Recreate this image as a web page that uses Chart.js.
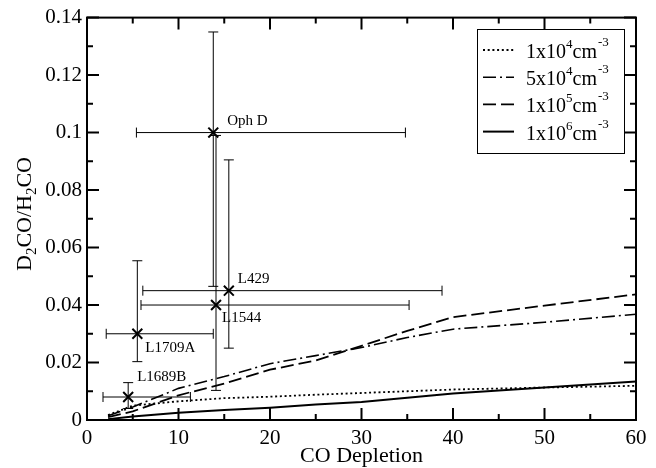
<!DOCTYPE html>
<html>
<head>
<meta charset="utf-8">
<script src="https://cdn.jsdelivr.net/npm/chart.js@4.4.1/dist/chart.umd.min.js"></script>
<style>
  html, body { margin: 0; padding: 0; background: #fff; }
</style>
</head>
<body>
<canvas id="myChart" width="656" height="468"></canvas>
<script>
// model curves: D2CO/H2CO vs CO depletion for four densities
const depletion = [2.3, 5, 10, 15, 20, 25, 30, 35, 40, 50, 60];
const dens1e4 = [0.0017, 0.005, 0.0065, 0.0076, 0.0081, 0.0088, 0.0094, 0.0100, 0.0106, 0.0113, 0.0119];
const dens5e4 = [0.0015, 0.0045, 0.0110, 0.0151, 0.0196, 0.0224, 0.0252, 0.0287, 0.0316, 0.0340, 0.0368];
const dens1e5 = [0.0010, 0.0030, 0.0086, 0.0127, 0.0175, 0.0207, 0.0258, 0.0310, 0.0358, 0.0398, 0.0437];
const dens1e6 = [0.0003, 0.0012, 0.0025, 0.0035, 0.0043, 0.0054, 0.0063, 0.0077, 0.0092, 0.0113, 0.0134];

// observed sources with error bars
const sourceNames = ['Oph D', 'L429', 'L1544', 'L1709A', 'L1689B'];
const srcDepl  = [13.8, 15.5, 14.1, 5.5, 4.5];
const srcRatio = [0.100, 0.045, 0.040, 0.030, 0.008];
const deplLow  = [5.4, 6.1, 5.9, 2.1, 1.75];
const deplHigh = [34.8, 38.8, 35.2, 13.8, 11.3];
const ratioLow  = [0.0465, 0.025, 0.0103, 0.0203, 0.004];
const ratioHigh = [0.135, 0.0905, 0.099, 0.0554, 0.013];

// legend text
const legendMant = ['1x10', '5x10', '1x10', '1x10'];
const legendExp  = ['4', '4', '5', '6'];

const SERIF = "'Liberation Serif', 'DejaVu Serif', serif";
const dashes = [[2, 2.7], [13, 4, 2, 4], [13, 5], []];
const widths = [1.8, 1.6, 1.8, 2];

const lineData = [dens1e4, dens5e4, dens1e5, dens1e6].map((arr, k) => ({
  label: legendMant[k] + legendExp[k],
  data: depletion.map((d, i) => ({ x: d, y: arr[i] })),
  showLine: true,
  borderColor: '#000',
  borderWidth: widths[k],
  borderDash: dashes[k],
  pointRadius: 0,
  fill: false
}));

// label offsets relative to each marker (px)
const labelOff = [[14, -12], [9, -12], [6, 13], [8, 14], [9, -20]];

const extras = {
  id: 'extras',
  beforeDatasetsDraw(chart) {
    const { ctx, scales: { x, y } } = chart;
    ctx.save();
    ctx.strokeStyle = '#000';
    ctx.lineWidth = 1;
    const cap = 5;
    for (let i = 0; i < sourceNames.length; i++) {
      const px = x.getPixelForValue(srcDepl[i]);
      const py = y.getPixelForValue(srcRatio[i]);
      const x0 = x.getPixelForValue(deplLow[i]);
      const x1 = x.getPixelForValue(deplHigh[i]);
      const y0 = y.getPixelForValue(ratioLow[i]);
      const y1 = y.getPixelForValue(ratioHigh[i]);
      ctx.beginPath();
      ctx.moveTo(x0, py); ctx.lineTo(x1, py);
      ctx.moveTo(x0, py - cap); ctx.lineTo(x0, py + cap);
      ctx.moveTo(x1, py - cap); ctx.lineTo(x1, py + cap);
      ctx.moveTo(px, y0); ctx.lineTo(px, y1);
      ctx.moveTo(px - cap, y0); ctx.lineTo(px + cap, y0);
      ctx.moveTo(px - cap, y1); ctx.lineTo(px + cap, y1);
      ctx.stroke();
    }
    ctx.restore();
  },
  afterDraw(chart) {
    const { ctx, chartArea: a, scales: { x, y } } = chart;
    ctx.save();
    ctx.strokeStyle = '#000';
    ctx.fillStyle = '#000';
    ctx.lineWidth = 2;
    ctx.strokeRect(a.left, a.top, a.right - a.left, a.bottom - a.top);

    // inward ticks on all four sides
    ctx.beginPath();
    const xt = x.ticks.map(t => t.value);
    for (let i = 0; i < xt.length; i++) {
      const p = x.getPixelForValue(xt[i]);
      ctx.moveTo(p, a.bottom); ctx.lineTo(p, a.bottom - 12);
      ctx.moveTo(p, a.top); ctx.lineTo(p, a.top + 12);
      if (i < xt.length - 1) {
        const m = x.getPixelForValue((xt[i] + xt[i + 1]) / 2);
        ctx.moveTo(m, a.bottom); ctx.lineTo(m, a.bottom - 6);
        ctx.moveTo(m, a.top); ctx.lineTo(m, a.top + 6);
      }
    }
    const yt = y.ticks.map(t => t.value);
    for (let i = 0; i < yt.length; i++) {
      const p = y.getPixelForValue(yt[i]);
      ctx.moveTo(a.left, p); ctx.lineTo(a.left + 12, p);
      ctx.moveTo(a.right, p); ctx.lineTo(a.right - 12, p);
      if (i < yt.length - 1) {
        const m = y.getPixelForValue((yt[i] + yt[i + 1]) / 2);
        ctx.moveTo(a.left, m); ctx.lineTo(a.left + 6, m);
        ctx.moveTo(a.right, m); ctx.lineTo(a.right - 6, m);
      }
    }
    ctx.stroke();

    // source labels
    ctx.font = '15px ' + SERIF;
    ctx.textAlign = 'left';
    ctx.textBaseline = 'middle';
    for (let i = 0; i < sourceNames.length; i++) {
      const px = x.getPixelForValue(srcDepl[i]);
      const py = y.getPixelForValue(srcRatio[i]);
      ctx.fillText(sourceNames[i], px + labelOff[i][0], py + labelOff[i][1]);
    }

    // x axis title
    ctx.textBaseline = 'alphabetic';
    ctx.textAlign = 'center';
    ctx.font = '22px ' + SERIF;
    ctx.fillText('CO Depletion', (a.left + a.right) / 2, 462);

    // y axis title with subscripts
    ctx.save();
    ctx.translate(31, 214);
    ctx.rotate(-Math.PI / 2);
    ctx.textAlign = 'left';
    const parts = [['D', 0], ['2', 1], ['CO/H', 0], ['2', 1], ['CO', 0]];
    const fontFor = s => (s ? '15px ' : '22px ') + SERIF;
    let total = 0;
    parts.forEach(([t, s]) => { ctx.font = fontFor(s); total += ctx.measureText(t).width; });
    let cx = -total / 2;
    parts.forEach(([t, s]) => {
      ctx.font = fontFor(s);
      ctx.fillText(t, cx, s ? 5 : 0);
      cx += ctx.measureText(t).width;
    });
    ctx.restore();

    // legend
    ctx.textAlign = 'left';
    ctx.textBaseline = 'alphabetic';
    const bx = 477, by = 29, bw = 147, bh = 124;
    ctx.fillStyle = '#fff';
    ctx.fillRect(bx, by, bw, bh);
    ctx.lineWidth = 1;
    ctx.strokeStyle = '#000';
    ctx.strokeRect(bx + 0.5, by + 0.5, bw, bh);
    ctx.fillStyle = '#000';
    for (let k = 0; k < 4; k++) {
      const base = 58 + k * 27.2;
      const ly = base - 8;
      ctx.beginPath();
      ctx.setLineDash(dashes[k]);
      ctx.lineWidth = widths[k];
      ctx.moveTo(483, ly); ctx.lineTo(514, ly);
      ctx.stroke();
      ctx.setLineDash([]);
      let tx = 526;
      ctx.font = '20px ' + SERIF;
      ctx.fillText(legendMant[k], tx, base); tx += ctx.measureText(legendMant[k]).width;
      ctx.font = '13px ' + SERIF;
      ctx.fillText(legendExp[k], tx, base - 10); tx += ctx.measureText(legendExp[k]).width;
      ctx.font = '20px ' + SERIF;
      ctx.fillText('cm', tx, base); tx += ctx.measureText('cm').width;
      ctx.font = '13px ' + SERIF;
      ctx.fillText('-3', tx + 1, base - 12);
    }
    ctx.restore();
  }
};

new Chart('myChart', {
  type: 'scatter',
  data: {
    datasets: [
      ...lineData,
      {
        label: 'sources',
        data: srcDepl.map((d, i) => ({ x: d, y: srcRatio[i] })),
        pointStyle: 'crossRot',
        pointRadius: 7,
        pointBorderWidth: 2,
        borderColor: '#000',
        backgroundColor: '#000',
        showLine: false
      }
    ]
  },
  options: {
    responsive: false,
    animation: false,
    layout: { padding: { left: 0, right: 20, top: 13, bottom: 0 } },
    plugins: {
      legend: { display: false },
      tooltip: { enabled: false }
    },
    scales: {
      x: {
        type: 'linear',
        min: 0, max: 60,
        grid: { display: false, drawTicks: false },
        border: { display: false },
        ticks: { stepSize: 10, color: '#000', padding: 6, font: { family: SERIF, size: 21 } },
        afterFit: s => { s.height = 48; }
      },
      y: {
        min: 0, max: 0.14,
        grid: { display: false, drawTicks: false },
        border: { display: false },
        ticks: {
          stepSize: 0.02, color: '#000', padding: 5, font: { family: SERIF, size: 21 },
          callback: v => String(parseFloat(v.toFixed(2)))
        },
        afterFit: s => { s.width = 87; }
      }
    }
  },
  plugins: [extras]
});
</script>
</body>
</html>
